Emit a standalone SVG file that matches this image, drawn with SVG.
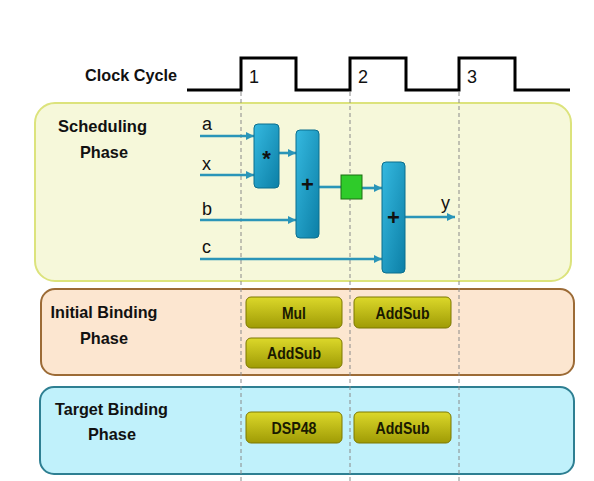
<svg xmlns="http://www.w3.org/2000/svg" width="594" height="481" viewBox="0 0 594 481">
<defs>
<style>
.lbl{font-family:"Liberation Sans",Arial,sans-serif;font-weight:bold;font-size:17px;fill:#111}
.sig{font-family:"Liberation Sans",Arial,sans-serif;font-size:18px;fill:#111}
.btxt{font-family:"Liberation Sans",Arial,sans-serif;font-weight:bold;font-size:17px;fill:#1a1a00;text-anchor:middle}
.op{font-family:"Liberation Sans",Arial,sans-serif;font-weight:bold;font-size:22px;fill:#111;text-anchor:middle}
.dash{stroke:#8a8a8a;stroke-width:1;stroke-dasharray:4 3;fill:none}
.wire{stroke:#2a95b8;stroke-width:2.6;fill:none}
.arr{marker-end:url(#ah)}
.blk{fill:url(#gb);stroke:#0b6f8e;stroke-width:1}
.btn{fill:url(#gy);stroke:#7d7900;stroke-width:1}
</style>
<linearGradient id="gb" x1="0" y1="0" x2="1" y2="1">
<stop offset="0" stop-color="#35b9e0"/>
<stop offset="1" stop-color="#0c7fa6"/>
</linearGradient>
<linearGradient id="gy" x1="0" y1="0" x2="0" y2="1">
<stop offset="0" stop-color="#dcd82a"/>
<stop offset="1" stop-color="#9f9b05"/>
</linearGradient>
<marker id="ah" viewBox="0 0 10 10" refX="10" refY="5" markerWidth="9" markerHeight="8" markerUnits="userSpaceOnUse" orient="auto">
<path d="M0,0 L10,5 L0,10 z" fill="#2a95b8"/>
</marker>
</defs>

<g id="clock">
<text class="lbl" x="85" y="81" textLength="92" lengthAdjust="spacingAndGlyphs">Clock Cycle</text>
<path d="M187,90 H241 V58 H296 V90 H350 V58 H406 V90 H459 V58 H515 V90 H570" fill="none" stroke="#000" stroke-width="3"/>
<text class="sig" x="249" y="83">1</text>
<text class="sig" x="358" y="83">2</text>
<text class="sig" x="467" y="83">3</text>
</g>

<g id="panel-scheduling">
<rect x="35" y="103" width="536" height="178" rx="20" fill="#f6f8da" stroke="#dce37c" stroke-width="2"/>
<text class="lbl" x="102.5" y="132" text-anchor="middle" textLength="89" lengthAdjust="spacingAndGlyphs">Scheduling</text>
<text class="lbl" x="104" y="158" text-anchor="middle" textLength="48" lengthAdjust="spacingAndGlyphs">Phase</text>
</g>
<g id="panel-initial">
<rect x="41" y="289" width="533" height="86" rx="14" fill="#fce6d0" stroke="#9c6b36" stroke-width="2"/>
<text class="lbl" x="104" y="318" text-anchor="middle" textLength="107" lengthAdjust="spacingAndGlyphs">Initial Binding</text>
<text class="lbl" x="104" y="344" text-anchor="middle" textLength="48" lengthAdjust="spacingAndGlyphs">Phase</text>
</g>
<g id="panel-target">
<rect x="40" y="387" width="534" height="87" rx="14" fill="#c0f1fb" stroke="#2e7f92" stroke-width="2"/>
<text class="lbl" x="111.5" y="415" text-anchor="middle" textLength="113" lengthAdjust="spacingAndGlyphs">Target Binding</text>
<text class="lbl" x="112" y="440" text-anchor="middle" textLength="48" lengthAdjust="spacingAndGlyphs">Phase</text>
</g>

<g id="grid">
<line class="dash" x1="241" y1="92" x2="241" y2="481"/>
<line class="dash" x1="350" y1="92" x2="350" y2="481"/>
<line class="dash" x1="459" y1="92" x2="459" y2="481"/>
</g>

<g id="inputs">
<text class="sig" x="202" y="130">a</text>
<text class="sig" x="202" y="170">x</text>
<text class="sig" x="202" y="215">b</text>
<text class="sig" x="202" y="253">c</text>
<text class="sig" x="441" y="209">y</text>
</g>

<g id="connectors">
<line class="wire arr" x1="200" y1="136" x2="254" y2="136"/>
<line class="wire arr" x1="200" y1="175" x2="254" y2="175"/>
<line class="wire arr" x1="279" y1="153" x2="296" y2="153"/>
<line class="wire arr" x1="200" y1="220" x2="296" y2="220"/>
<line class="wire arr" x1="200" y1="259" x2="382" y2="259"/>
<line class="wire" x1="319" y1="187" x2="341" y2="187"/>
<line class="wire arr" x1="362" y1="188" x2="382" y2="188"/>
<line class="wire arr" x1="405" y1="217" x2="455" y2="217"/>
</g>

<g id="mul">
<rect class="blk" x="254" y="124" width="25" height="64" rx="4"/>
<text class="op" x="266.5" y="166">*</text>
</g>
<g id="add1">
<rect class="blk" x="296" y="130" width="23" height="108" rx="4"/>
<text class="op" x="307.5" y="192">+</text>
</g>
<g id="reg">
<rect x="341" y="175" width="21" height="24" fill="#2fcb2a" stroke="#1d6e12" stroke-width="1"/>
</g>
<g id="add2">
<rect class="blk" x="382" y="162" width="23" height="111" rx="4"/>
<text class="op" x="393.5" y="225">+</text>
</g>

<g id="btn-mul">
<rect class="btn" x="246" y="297" width="96" height="31" rx="5"/>
<text class="btxt" x="294" y="318.5" textLength="24" lengthAdjust="spacingAndGlyphs">Mul</text>
</g>
<g id="btn-addsub1">
<rect class="btn" x="354" y="297" width="97" height="31" rx="5"/>
<text class="btxt" x="402.5" y="318.5" textLength="54" lengthAdjust="spacingAndGlyphs">AddSub</text>
</g>
<g id="btn-addsub2">
<rect class="btn" x="246" y="338" width="96" height="30" rx="5"/>
<text class="btxt" x="294" y="359" textLength="54" lengthAdjust="spacingAndGlyphs">AddSub</text>
</g>
<g id="btn-dsp48">
<rect class="btn" x="246" y="412" width="96" height="31" rx="5"/>
<text class="btxt" x="294" y="433.5" textLength="45" lengthAdjust="spacingAndGlyphs">DSP48</text>
</g>
<g id="btn-addsub3">
<rect class="btn" x="354" y="412" width="97" height="31" rx="5"/>
<text class="btxt" x="402.5" y="433.5" textLength="54" lengthAdjust="spacingAndGlyphs">AddSub</text>
</g>
</svg>
